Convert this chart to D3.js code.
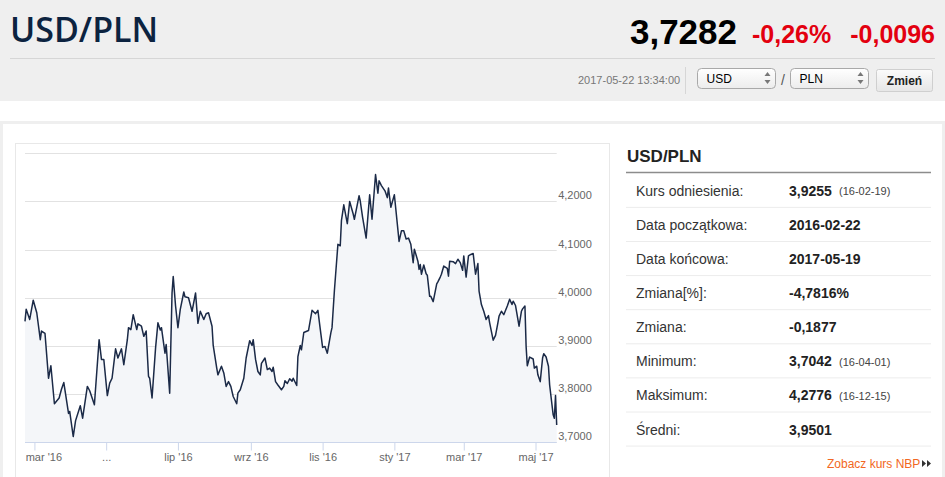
<!DOCTYPE html>
<html>
<head>
<meta charset="utf-8">
<script src="https://cdn.jsdelivr.net/npm/d3@7"></script>
<style>
  body { margin: 0; background: #fff; overflow: hidden; }
  svg { display: block; font-family: Arial, "Liberation Sans", sans-serif; }
</style>
</head>
<body>
<svg width="945" height="477"></svg>
<script>
// --- data ---
const startDate = "2016-02-22";
// days since start date, one entry per reading
const dayOffsets = [0,1,4,7,10,13,14,17,20,22,25,29,31,33,37,38,41,43,47,49,53,55,59,63,65,67,70,72,74,77,79,82,84,87,88,90,92,95,96,99,101,103,105,106,108,111,113,115,116,119,120,123,125,126,128,130,132,135,136,139,142,145,147,149,152,154,156,159,160,163,164,167,169,171,173,175,177,180,181,183,186,188,191,193,194,196,198,200,201,204,206,208,210,211,213,215,218,220,221,223,225,227,228,231,232,234,235,237,239,241,244,247,249,251,253,255,257,260,261,263,266,268,269,271,273,274,276,279,280,284,285,287,290,293,294,295,298,300,301,303,306,308,309,311,314,318,320,322,324,326,328,330,331,334,335,336,337,339,341,342,344,345,347,350,351,353,354,356,359,360,361,364,366,368,370,372,373,375,377,379,381,383,385,386,388,390,392,394,395,398,400,402,403,405,407,410,412,414,415,417,420,422,423,425,426,427,429,432,433,435,436,438,440,441,443,445,446,449,450,451,452];
const rates = [3.951,3.976,3.955,3.995,3.969,3.913,3.931,3.926,3.833,3.859,3.780,3.792,3.810,3.824,3.760,3.764,3.712,3.745,3.776,3.750,3.816,3.807,3.778,3.913,3.872,3.872,3.797,3.823,3.833,3.894,3.875,3.894,3.861,3.913,3.938,3.934,3.965,3.934,3.946,3.941,3.920,3.931,3.837,3.833,3.792,3.896,3.948,3.933,3.938,3.885,3.903,3.802,4.010,4.044,3.983,3.938,3.976,4.012,4.002,4.000,3.972,4.010,3.947,3.972,3.955,3.967,3.969,3.941,3.901,3.854,3.840,3.858,3.844,3.816,3.826,3.816,3.795,3.780,3.802,3.809,3.833,3.875,3.911,3.901,3.913,3.872,3.847,3.840,3.864,3.875,3.851,3.854,3.847,3.856,3.826,3.819,3.809,3.816,3.828,3.822,3.832,3.827,3.833,3.818,3.878,3.901,3.892,3.928,3.930,3.932,3.974,3.967,3.974,3.935,3.897,3.899,3.885,3.927,3.938,4.014,4.111,4.108,4.160,4.193,4.167,4.154,4.200,4.174,4.163,4.212,4.201,4.167,4.124,4.214,4.189,4.163,4.256,4.217,4.243,4.233,4.222,4.208,4.228,4.188,4.214,4.117,4.139,4.139,4.122,4.124,4.111,4.073,4.101,4.076,4.059,4.069,4.049,4.068,4.050,4.047,4.003,4.003,3.992,4.029,4.033,4.043,4.049,4.066,4.061,4.045,4.076,4.075,4.071,4.080,4.073,4.057,4.087,4.043,4.087,4.090,4.092,4.049,4.071,4.014,3.986,3.972,3.955,3.963,3.948,3.912,3.922,3.948,3.962,3.972,3.965,3.983,3.997,3.986,3.993,3.984,3.941,3.972,3.977,3.983,3.899,3.859,3.877,3.873,3.854,3.858,3.840,3.826,3.875,3.884,3.877,3.858,3.819,3.757,3.750,3.797,3.736];

const xTickDates = ["2016-03-01","2016-05-01","2016-07-01","2016-09-01","2016-11-01","2017-01-01","2017-03-01","2017-05-01"];
const xTickLabels = ["mar '16","...","lip '16","wrz '16","lis '16","sty '17","mar '17","maj '17"];
const yGridValues = [3.7,3.8,3.9,4.0,4.1,4.2,4.3];
const yLabelValues = [3.7,3.8,3.9,4.0,4.1,4.2];

const statLabels = ["Kurs odniesienia:","Data początkowa:","Data końcowa:","Zmiana[%]:","Zmiana:","Minimum:","Maksimum:","Średni:"];
const statValues = ["3,9255","2016-02-22","2017-05-19","-4,7816%","-0,1877","3,7042","4,2776","3,9501"];
const statNotes = ["(16-02-19)","","","","","(16-04-01)","(16-12-15)",""];

const svg = d3.select("svg");
const parse = d3.utcParse("%Y-%m-%d");
const t0 = parse(startDate);
const data = dayOffsets.map((d, i) => ({ date: d3.utcDay.offset(t0, d), v: rates[i] }));

// --- page background ---
svg.append("rect").attr("width", 945).attr("height", 101).attr("fill", "#efefef");
svg.append("rect").attr("y", 121).attr("width", 945).attr("height", 356).attr("fill", "#efefef");
svg.append("rect").attr("x", 3).attr("y", 124).attr("width", 939).attr("height", 353).attr("fill", "#fff");
svg.append("line").attr("x1", 10).attr("x2", 935).attr("y1", 58.5).attr("y2", 58.5).attr("stroke", "#d6d6d6");

// header
svg.append("text").attr("x", 10).attr("y", 42)
  .style("font-family", "'Open Sans', sans-serif").style("font-weight", 600)
  .style("font-size", "34px").attr("fill", "#0c2340").text("USD/PLN");
svg.append("text").attr("x", 737).attr("y", 44).attr("text-anchor", "end")
  .style("font-weight", "bold").style("font-size", "35px").attr("fill", "#000").text("3,7282");
svg.append("text").attr("x", 752).attr("y", 43)
  .style("font-weight", "bold").style("font-size", "25px").attr("fill", "#e3000f").text("-0,26%");
svg.append("text").attr("x", 935).attr("y", 43).attr("text-anchor", "end")
  .style("font-weight", "bold").style("font-size", "25px").attr("fill", "#e3000f").text("-0,0096");

// controls row
svg.append("text").attr("x", 578).attr("y", 84).style("font-size", "11px").attr("fill", "#777")
  .text("2017-05-22 13:34:00");
svg.append("line").attr("x1", 685.5).attr("x2", 685.5).attr("y1", 67).attr("y2", 94).attr("stroke", "#d6d6d6");

const defs = svg.append("defs");
const g1 = defs.append("linearGradient").attr("id", "selGrad").attr("x1", 0).attr("x2", 0).attr("y1", 0).attr("y2", 1);
g1.append("stop").attr("offset", 0).attr("stop-color", "#ffffff");
g1.append("stop").attr("offset", 1).attr("stop-color", "#ececec");
const g2 = defs.append("linearGradient").attr("id", "btnGrad").attr("x1", 0).attr("x2", 0).attr("y1", 0).attr("y2", 1);
g2.append("stop").attr("offset", 0).attr("stop-color", "#fbfbfb");
g2.append("stop").attr("offset", 1).attr("stop-color", "#e6e6e6");

[["USD", 697.5], ["PLN", 790.5]].forEach(([txt, sx]) => {
  svg.append("rect").attr("x", sx).attr("y", 68.5).attr("width", 78).attr("height", 20).attr("rx", 4)
    .attr("fill", "url(#selGrad)").attr("stroke", "#a9a9a9");
  svg.append("text").attr("x", sx + 9).attr("y", 83).style("font-size", "12px").attr("fill", "#000").text(txt);
  svg.append("path").attr("d", `M${sx + 67},76 l3,-4 l3,4 z M${sx + 67},80 l3,4 l3,-4 z`).attr("fill", "#777");
});
svg.append("text").attr("x", 781).attr("y", 85).style("font-size", "14px").attr("fill", "#555").text("/");
svg.append("rect").attr("x", 876.5).attr("y", 69.5).attr("width", 56).attr("height", 22).attr("rx", 2)
  .attr("fill", "url(#btnGrad)").attr("stroke", "#cfcfcf");
svg.append("text").attr("x", 904.5).attr("y", 85).attr("text-anchor", "middle")
  .style("font-size", "12px").style("font-weight", "bold").attr("fill", "#222").text("Zmień");

// --- chart ---
svg.append("rect").attr("x", 15.5).attr("y", 143.5).attr("width", 594).attr("height", 340)
  .attr("fill", "#fff").attr("stroke", "#e8e8e8");

const plotLeft = 25, plotRight = 556.7;
const x = d3.scaleUtc()
  .domain(d3.extent(data, (d) => d.date))
  .range([plotLeft, plotRight]);
const y = d3.scaleLinear()
  .domain([3.7, 4.3])
  .range([442.3, 153.3]);

// grid
svg.append("g").selectAll("line").data(yGridValues).join("line")
  .attr("x1", plotLeft).attr("x2", plotRight)
  .attr("y1", (d) => Math.round(y(d)) + 0.5).attr("y2", (d) => Math.round(y(d)) + 0.5)
  .attr("stroke", "#e2e2e2");

// area + line
svg.append("path").datum(data)
  .attr("fill", "#f4f6f9")
  .attr("d", d3.area().x((d) => x(d.date)).y0(y(3.7)).y1((d) => y(d.v)));
svg.append("path").datum(data)
  .attr("fill", "none").attr("stroke", "#1b2a47").attr("stroke-width", 1.5)
  .attr("stroke-linejoin", "round")
  .attr("d", d3.line().x((d) => x(d.date)).y((d) => y(d.v)));

// y labels
const fmt = (v) => d3.format(".4f")(v).replace(".", ",");
svg.append("g").selectAll("text").data(yLabelValues).join("text")
  .attr("x", plotRight + 1.5).attr("y", (d) => y(d) - 2)
  .style("font-size", "11px").attr("fill", "#666").text(fmt);

// x axis
const xAxis = d3.axisBottom(x)
  .tickValues(xTickDates.map(parse))
  .tickSize(8)
  .tickFormat((d, i) => xTickLabels[i]);
const gx = svg.append("g").attr("transform", `translate(0,${Math.round(y(3.7)) + 0.5})`).call(xAxis);
gx.select(".domain").attr("stroke", "#ccd6eb").attr("d", `M${plotLeft},0H${plotRight}`);
gx.selectAll(".tick line").attr("stroke", "#ccd6eb");
gx.selectAll(".tick text").attr("fill", "#666").style("font-size", "11px")
  .style("font-family", "Arial, 'Liberation Sans', sans-serif").attr("y", 11).attr("dy", "0.71em");
// keep the first label inside the plot, as the original does
gx.selectAll(".tick").each(function () {
  const tick = d3.select(this);
  const tx = +tick.attr("transform").match(/translate\(([-\d.]+)/)[1];
  const text = tick.select("text");
  const w = text.node().getComputedTextLength();
  if (tx - w / 2 < plotLeft) text.attr("x", plotLeft + 0.7 - tx + w / 2);
});

// --- stats table ---
svg.append("text").attr("x", 627).attr("y", 162)
  .style("font-size", "17px").style("font-weight", "bold").attr("fill", "#222").text("USD/PLN");
svg.append("line").attr("x1", 626).attr("x2", 931).attr("y1", 172.5).attr("y2", 172.5)
  .attr("stroke", "#8c8c8c").attr("stroke-width", 1.5);

const rowTop = 173.3, rowH = 34.1;
const rows = svg.append("g").selectAll("g").data(statLabels).join("g")
  .attr("transform", (d, i) => `translate(0,${rowTop + i * rowH})`);
rows.append("line").attr("x1", 626).attr("x2", 931).attr("y1", rowH).attr("y2", rowH).attr("stroke", "#ececec");
rows.append("text").attr("x", 636).attr("y", 22.5).style("font-size", "14px").attr("fill", "#333").text((d) => d);
rows.append("text").attr("x", 789).attr("y", 22.5).style("font-size", "14px").style("font-weight", "bold")
  .attr("fill", "#222").text((d, i) => statValues[i]);
rows.append("text").attr("x", 839).attr("y", 22).style("font-size", "11px").attr("fill", "#444")
  .text((d, i) => statNotes[i]);

svg.append("text").attr("x", 827).attr("y", 467.5).style("font-size", "12px").attr("fill", "#f26722")
  .text("Zobacz kurs NBP");
svg.append("path").attr("d", "M922,460 l4,3.5 l-4,3.5 z M927,460 l4,3.5 l-4,3.5 z").attr("fill", "#333");
</script>
</body>
</html>
